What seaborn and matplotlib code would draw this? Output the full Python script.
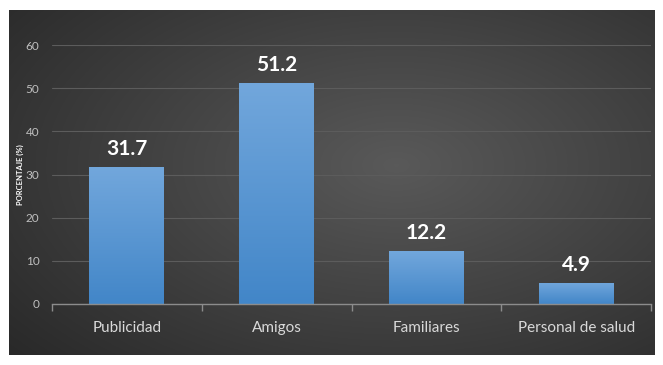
import numpy as np
import pandas as pd
import matplotlib
matplotlib.use("Agg")
import matplotlib.pyplot as plt
import seaborn as sns
from matplotlib.ticker import FixedLocator

categorias = ["Publicidad", "Amigos", "Familiares", "Personal de salud"]
porcentajes = [31.7, 51.2, 12.2, 4.9]
etiquetas = ["31.7", "51.2", "12.2", "4.9"]
y_ticks = [0, 10, 20, 30, 40, 50, 60]

sns.set_style("dark")
plt.rcParams["font.family"] = ["Lato", "DejaVu Sans"]

W, H = 663, 365
fig = plt.figure(figsize=(W / 100, H / 100), dpi=100, facecolor="white")

# dark panel with a soft radial glow
bg = fig.add_axes([9 / W, 1 - 355 / H, (655 - 9) / W, (355 - 10) / H])
yy, xx = np.mgrid[0:1:300j, 0:1:500j]
r = np.sqrt(((xx - 0.6) / 0.75) ** 2 + ((yy - 0.45) / 0.8) ** 2)
shade = np.clip(0.35 - 0.18 * r, 0.16, 0.35)
bg.imshow(np.dstack([shade] * 3), aspect="auto", extent=[0, 1, 0, 1])
bg.set_axis_off()

ax = fig.add_axes([52 / W, 1 - 304 / H, (651 - 52) / W, (304 - 45) / H])
ax.patch.set_alpha(0)

df = pd.DataFrame({"cat": categorias, "val": porcentajes})
sns.barplot(data=df, x="cat", y="val", color="#5b9bd5", width=0.5,
            saturation=1, ax=ax, zorder=3)

# vertical gradient fill inside each bar
grad = np.linspace(0, 1, 256).reshape(-1, 1)
top = np.array([0x72, 0xa7, 0xdc]) / 255
bot = np.array([0x42, 0x86, 0xc8]) / 255
cols = (bot[None, None, :] * (1 - grad[..., None]) + top[None, None, :] * grad[..., None])
for p in ax.patches:
    x0, y0 = p.get_x(), p.get_y()
    w, h = p.get_width(), p.get_height()
    im = ax.imshow(cols, aspect="auto", origin="lower",
                   extent=[x0, x0 + w, y0, y0 + h], zorder=4)
    im.set_clip_path(p)
    p.set_edgecolor("none")

for p, lab in zip(ax.patches, etiquetas):
    ax.annotate(lab, (p.get_x() + p.get_width() / 2, p.get_height()),
                xytext=(0, 6), textcoords="offset points", ha="center",
                va="bottom", color="white", fontsize=15, fontweight="bold",
                zorder=5)

ax.set_xlim(-0.5, 3.5)
ax.set_ylim(0, 60)
ax.set_yticks(y_ticks)
ax.grid(axis="y", color="#5c5c5c", linewidth=0.8, zorder=0)
ax.grid(axis="x", visible=False)
for s in ["top", "right", "left"]:
    ax.spines[s].set_visible(False)
ax.spines["bottom"].set_visible(True)
ax.spines["bottom"].set_color("#8c8c8c")
ax.spines["bottom"].set_linewidth(1.0)
ax.spines["bottom"].set_zorder(6)

ax.xaxis.set_minor_locator(FixedLocator([-0.5, 0.5, 1.5, 2.5, 3.5]))
ax.tick_params(axis="x", which="minor", length=5, color="#8c8c8c", width=1, bottom=True)
ax.tick_params(axis="x", which="major", length=0, pad=12, labelsize=11, labelcolor="#d9d9d9")
ax.tick_params(axis="y", length=0, pad=9, labelsize=8.5, labelcolor="#bfbfbf")

ax.set_xlabel("")
ax.set_ylabel("")
fig.text(20 / W, 1 - 175 / H, "PORCENTAJE (%)", rotation=90, ha="center", va="center",
         fontsize=5.5, color="white", fontweight="bold")

fig.savefig("out.png", dpi=100, facecolor="white")
